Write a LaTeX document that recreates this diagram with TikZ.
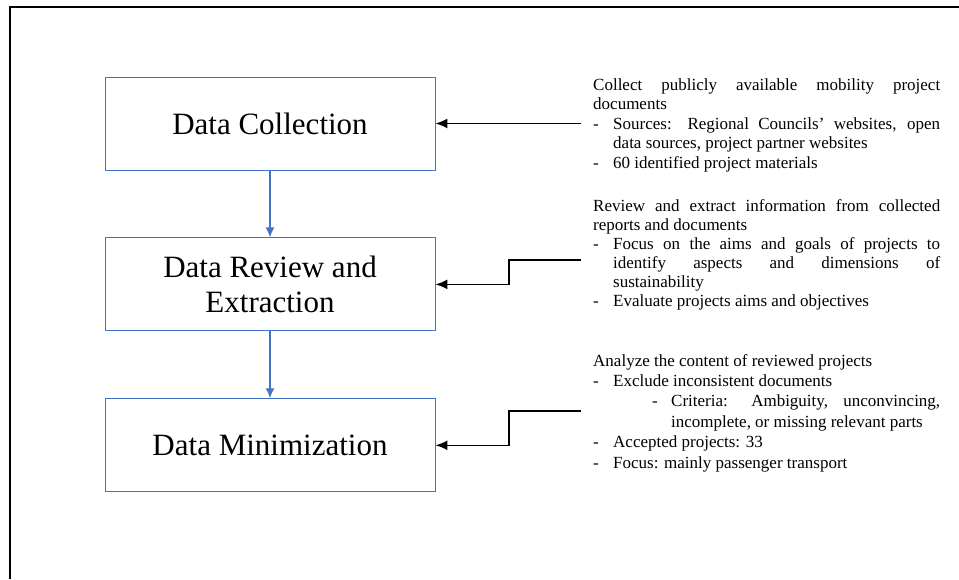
\documentclass[tikz,border=0pt]{standalone}
\usepackage{fontspec}
\setmainfont{Liberation Serif}
\usetikzlibrary{arrows.meta,positioning}

\definecolor{boxblue}{RGB}{68,114,196}
\hyphenpenalty=10000
\tolerance=10000
\newcommand{\dashitem}[1]{\par\hangindent=20pt\hangafter=1\noindent\makebox[20pt][l]{-}#1}
\newcommand{\subdashitem}[1]{\par\hangindent=78pt\hangafter=1\noindent\hspace*{59pt}\makebox[19pt][l]{-}#1}

\begin{document}
\begin{tikzpicture}[x=1pt,y=-1pt,node distance=67pt,
    stage/.style={draw=boxblue,line width=0.9pt,minimum width=330pt,minimum height=93pt,
      align=center,font=\fontsize{31}{35}\selectfont},
    note/.style={anchor=base west,inner sep=0pt,text width=347pt,align=justify,
      font=\fontsize{17}{19.5}\selectfont},
    feed/.style={-{Latex[length=12pt,width=10pt]},line width=1.6pt},
    flow/.style={-{Latex[length=10pt,width=9pt]},draw=boxblue,fill=boxblue,line width=1.8pt}]
      \useasboundingbox (0,0) rectangle (959,579);
      \draw[line width=1.5pt] (10,579) -- (10,7) -- (959,7);

      \node[stage] (collect) at (270,123.5) {Data Collection};
      \node[stage,below=of collect] (review) {Data Review and\\Extraction};
      \node[stage,below=of review] (minimize) {Data Minimization};

      \node[note] (n1) at (593,90) {Collect publicly available mobility project\linebreak documents
        \dashitem{Sources: Regional Councils’ websites, open\linebreak data sources, project partner websites}
        \dashitem{60 identified project materials}};
      \node[note,font=\fontsize{17}{19}\selectfont] (n2) at (593,211) {Review and extract information from collected\linebreak reports and documents
        \dashitem{Focus on the aims and goals of projects to\linebreak identify aspects and dimensions of\linebreak sustainability}
        \dashitem{Evaluate projects aims and objectives}};
      \node[note,font=\fontsize{17}{20.4}\selectfont] (n3) at (593,366) {Analyze the content of reviewed projects
        \dashitem{Exclude inconsistent documents}
        \subdashitem{Criteria: Ambiguity, unconvincing,\linebreak incomplete, or missing relevant parts}
        \dashitem{Accepted projects: 33}
        \dashitem{Focus: mainly passenger transport}};

      \coordinate (c1) at (581,123.5);
      \coordinate (c2) at (581,260);
      \coordinate (c3) at (581,410.7);

      \draw[flow] (collect) -- (review);
      \draw[flow] (review) -- (minimize);
      \draw[feed] (c1) -- (collect.east);
      \draw[feed] (c2) -- ++(-72,0) |- (review.east);
      \draw[feed] (c3) -- ++(-72,0) |- (minimize.east);
\end{tikzpicture}
\end{document}
